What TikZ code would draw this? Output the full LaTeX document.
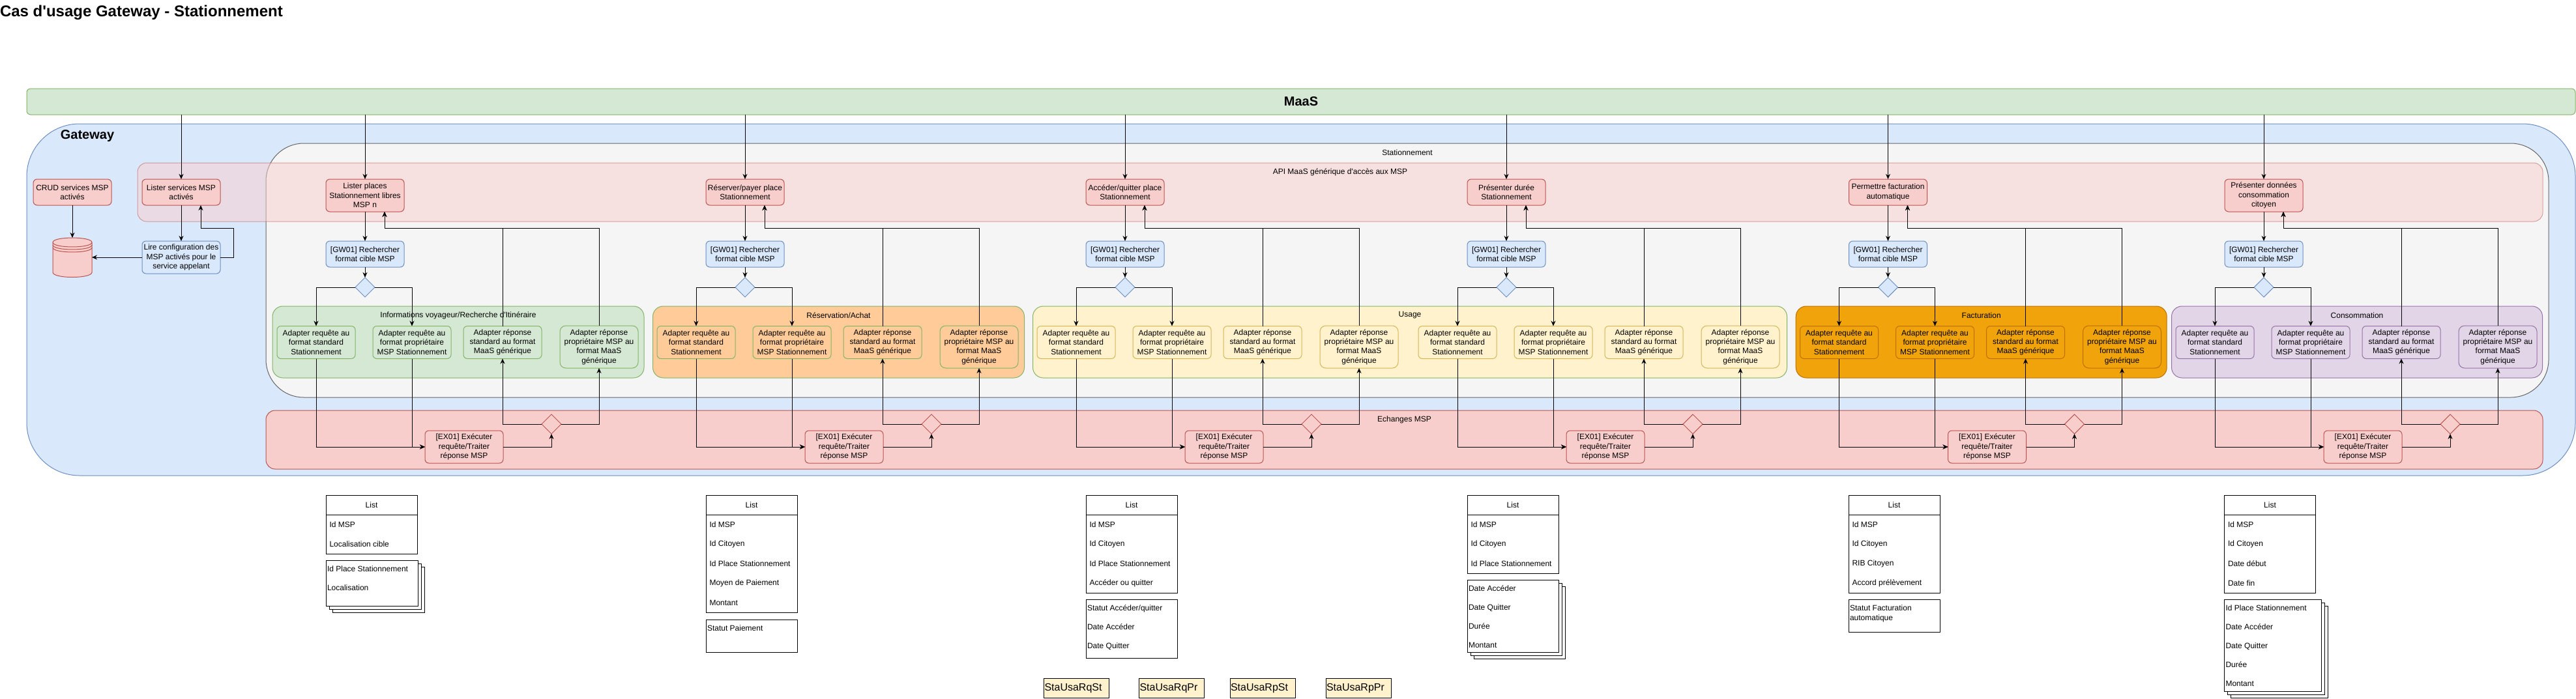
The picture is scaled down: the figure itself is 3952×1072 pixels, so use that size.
\documentclass[tikz,border=0pt]{standalone}
\usepackage{fontspec}
\usepackage{tikz}
\usetikzlibrary{arrows.meta,shapes.geometric}
\newfontfamily\diafont{Liberation Sans}
\definecolor{c1}{HTML}{d5e8d4}
\definecolor{c1s}{HTML}{82b366}
\definecolor{c2}{HTML}{dae8fc}
\definecolor{c2s}{HTML}{6c8ebf}
\definecolor{c3}{HTML}{f8cecc}
\definecolor{c3s}{HTML}{b85450}
\definecolor{c4}{HTML}{ffcc99}
\definecolor{c5}{HTML}{fff2cc}
\definecolor{c5s}{HTML}{d6b656}
\definecolor{c6}{HTML}{f0a30a}
\definecolor{c6s}{HTML}{bd7000}
\definecolor{c7}{HTML}{e1d5e7}
\definecolor{c7s}{HTML}{9673a6}
\definecolor{c8}{HTML}{f5f5f5}
\definecolor{c8s}{HTML}{666666}
\tikzset{
    panel/.style={draw, line width=1pt, inner sep=0, outer sep=0},
    txt/.style={inner sep=0, outer sep=0, align=center},
    bigtxt/.style={font=\diafont\fontsize{#1}{#1}\bfseries\selectfont},
    stepbox/.style={draw, line width=1pt, inner sep=0, outer sep=0, align=center,
        minimum width=120, rounded corners=6},
    lowtxt/.style={execute at begin node=\rule{0pt}{15pt}},
    api40/.style={minimum height=40},
    api50/.style={minimum height=50, lowtxt},
    choice/.style={draw, line width=1pt, diamond, aspect=1, inner sep=0, outer sep=0,
        minimum width=30, minimum height=30},
    link/.style={line width=1pt, -{Stealth[length=8pt,width=7pt]}},
    listbox/.style={draw, line width=1pt, fill=white, inner sep=0, outer sep=0},
    listrow/.style={inner sep=0, outer sep=0, align=left},
    tagbox/.style={draw, line width=1pt, fill=c5, inner sep=1, outer sep=0, align=left,
        text width=98, minimum height=30, font=\diafont\fontsize{16}{19}\selectfont},
}

\begin{document}
\begin{tikzpicture}[x=1pt, y=-1pt, font=\diafont\fontsize{12}{14.3}\selectfont]
    \useasboundingbox (0,0) rectangle (3952,1072);

    \node[txt, anchor=west, bigtxt=24] (title) at (0,19) {Cas d'usage Gateway - Stationnement};
    \node[panel, fill=c1, draw=c1s, minimum width=3910, minimum height=40, rounded corners=6, bigtxt=20] (maas) at (1996,156) {MaaS};

    % big frames
    \node[panel, fill=c2, draw=c2s, minimum width=3910, minimum height=540, rounded corners=81] (gateway) at (1996,460) {};
    \node[txt, bigtxt=20] (gatewaylbl) at (134,209) {Gateway};
    \node[panel, fill=c8, draw=c8s, minimum width=3502, minimum height=390, rounded corners=58] (station) at (2159,415) {};
    \node[txt] (stationlbl) at (2159,234) {Stationnement};
    \node[panel, fill=c3, draw=c3s, opacity=.5, minimum width=3690, minimum height=90, rounded corners=14] (api) at (2056,295) {};
    \node[txt] (apilbl) at (2056,264) {API MaaS générique d'accès aux MSP};
    \node[panel, fill=c3, draw=c3s, minimum width=3493, minimum height=90, rounded corners=14] (echanges) at (2154.5,675) {};
    \node[txt] (echangeslbl) at (2154.5,644) {Echanges MSP};

    \foreach \grp/\gx/\gw/\fillc/\strokec/\gtxt in {
        info/703/570/c1/c1s/{Informations voyageur/Recherche d'Itinéraire},
        resa/1286.5/570/c4/c1s/{Réservation/Achat},
        usage/2163/1157/c5/c1s/{Usage},
        fact/3039.7/569/c6/c6s/{Facturation},
        conso/3616/569/c7/c7s/{Consommation}} {
        \node[panel, fill=\fillc, draw=\strokec, minimum width=\gw, minimum height=110, rounded corners=16] (\grp) at (\gx,525) {};
        \node[txt] (\grp lbl) at (\gx,484) {\gtxt};
    }

    % left part, service configuration
    \node[stepbox, fill=c3, draw=c3s, minimum height=40] (crud) at (111,295) {CRUD services MSP\\activés};
    \node[stepbox, fill=c3, draw=c3s, minimum height=40] (lister) at (278,295) {Lister services MSP\\activés};
    \node[stepbox, lowtxt, fill=c2, draw=c2s, minimum height=50] (lire) at (278,395) {Lire configuration des\\MSP activés pour le\\service appelant};
    \node[inner sep=0, outer sep=0, minimum size=60] (store) at (111,395) {};
    \draw[line width=1pt, draw=c3s, fill=c3] (81,372) .. controls (81,362.7) and (141,362.7) .. (141,372) -- (141,418) .. controls (141,428) and (81,428) .. (81,418) -- cycle;
    \foreach \off in {0,4,8}
        \draw[line width=1pt, draw=c3s] (81,{372+\off}) .. controls (81,{381.3+\off}) and (141,{381.3+\off}) .. (141,{372+\off});
    \coordinate (backlist) at (308,350);
    \draw[link] (crud) -- (store.north);
    \draw[link] (maas.south -| lister) -- (lister);
    \draw[link] (lister) -- (lire);
    \draw[link] (lire) -- (store.east);
    \draw[link] (lire.east) -- ++(20,0) |- (backlist) -- (backlist |- lister.south);

    % the six columns
    \foreach \col/\cx/\fillc/\strokec/\apist/\apitxt in {
        1/560/c1/c1s/api50/{Lister places\\Stationnement libres\\MSP n},
        2/1143/c4/c1s/api40/{Réserver/payer place\\Stationnement},
        3/1726/c5/c5s/api40/{Accéder/quitter place\\Stationnement},
        4/2311/c5/c5s/api40/{Présenter durée\\Stationnement},
        5/2896.5/c6/c6s/api40/{Permettre facturation\\automatique},
        6/3473/c7/c7s/api50/{Présenter données\\consommation\\citoyen}} {
        \node[stepbox, \apist, fill=c3, draw=c3s, anchor=north] (api\col) at (\cx,275) {\apitxt};
        \node[stepbox, fill=c2, draw=c2s, minimum height=40] (gw\col) at (\cx,390) {[GW01] Rechercher\\format cible MSP};
        \node[choice, fill=c2, draw=c2s] (dec\col) at (\cx,441) {};
        \node[stepbox, lowtxt, fill=\fillc, draw=\strokec, minimum height=50] (rqst\col) at ({\cx-75},525.5) {Adapter requête au\\format standard\\Stationnement};
        \node[stepbox, lowtxt, fill=\fillc, draw=\strokec, minimum height=50] (rqpr\col) at ({\cx+72},525.5) {Adapter requête au\\format propriétaire\\MSP Stationnement};
        \node[stepbox, lowtxt, fill=\fillc, draw=\strokec, minimum height=50] (rpst\col) at ({\cx+211},525.5) {Adapter réponse\\standard au format\\MaaS générique};
        \node[stepbox, lowtxt, fill=\fillc, draw=\strokec, minimum height=65, rounded corners=9] (rppr\col) at ({\cx+359},532.5) {Adapter réponse\\propriétaire MSP au\\format MaaS\\générique};
        \node[stepbox, lowtxt, fill=c3, draw=c3s, minimum height=50] (ex\col) at ({\cx+152},686) {[EX01] Exécuter\\requête/Traiter\\réponse MSP};
        \node[choice, fill=c3, draw=c3s] (exdec\col) at ({\cx+286},651) {};
        \coordinate (back\col) at ({\cx+30},350);

        \draw[link] (maas.south -| api\col) -- (api\col);
        \draw[link] (api\col) -- (gw\col);
        \draw[link] (gw\col) -- (dec\col);
        \draw[link] (dec\col.west) -| (rqst\col.north);
        \draw[link] (dec\col.east) -| (rqpr\col.north);
        \draw[link] (rqst\col.south) |- (ex\col.west);
        \draw[link] (rqpr\col.south) |- (ex\col.west);
        \draw[link] (ex\col.east) -| (exdec\col.south);
        \draw[link] (exdec\col.west) -| (rpst\col.south);
        \draw[link] (exdec\col.east) -| (rppr\col.south);
        \draw[link] (rpst\col.north) |- (back\col) -- (back\col |- api\col.south);
        \draw[link] (rppr\col.north) |- (back\col) -- (back\col |- api\col.south);
    }

    % request lists
    \foreach \id/\lx/\lw/\nr/\rows in {
        a/500/140/2/{Id MSP,Localisation cible},
        b/1083/140/5/{Id MSP,Id Citoyen,Id Place Stationnement,Moyen de Paiement,Montant},
        c/1666/140/4/{Id MSP,Id Citoyen,Id Place Stationnement,Accéder ou quitter},
        d/2251/140/3/{Id MSP,Id Citoyen,Id Place Stationnement},
        e/2836/140/4/{Id MSP,Id Citoyen,RIB Citoyen,Accord prélèvement},
        f/3412.5/140/4/{Id MSP,Id Citoyen,Date début,Date fin}} {
        \node[listbox, anchor=north west, minimum width=\lw, minimum height=30] (\id head) at (\lx,760) {List};
        \node[listbox, anchor=north west, minimum width=\lw, minimum height={30*\nr}] (\id body) at (\lx,790) {};
        \foreach \rowtxt [count=\n] in \rows
            \node[listrow, anchor=west] (\id row\n) at ({\lx+5.5},{775+30*\n}) {\rowtxt};
    }

    % response boxes, some of them are stacks
    \foreach \id/\lx/\top/\rw/\rh/\offs/\rows in {
        a/500/860/141/70/{10,5,0}/{Id Place Stationnement,Localisation},
        b/1083/951/140/50/{0}/{Statut Paiement},
        c/1666/920/140/90/{0}/{Statut Accéder/quitter,Date Accéder,Date Quitter},
        d/2251/890/140/111/{10,5,0}/{Date Accéder,Date Quitter,Durée,Montant},
        e/2836/920/140/50/{0}/{Statut Facturation\\automatique},
        f/3412.5/920/149/141/{10,5,0}/{Id Place Stationnement,Date Accéder,Date Quitter,Durée,Montant}} {
        \foreach \off in \offs
            \node[listbox, anchor=north west, minimum width=\rw, minimum height=\rh] (\id resp\off) at ({\lx+\off},{\top+\off}) {};
        \foreach \rowtxt [count=\n] in \rows
            \node[listrow, anchor=north west] (\id out\n) at ({\lx+2},{\top+9+29*(\n-1)}) {\rowtxt};
    }

    \node[tagbox] (tag1) at (1651.5,1056.5) {StaUsaRqSt};
    \node[tagbox] (tag2) at (1797.5,1056.5) {StaUsaRqPr};
    \node[tagbox] (tag3) at (1937,1056.5) {StaUsaRpSt};
    \node[tagbox] (tag4) at (2084,1056.5) {StaUsaRpPr};
\end{tikzpicture}
\end{document}
